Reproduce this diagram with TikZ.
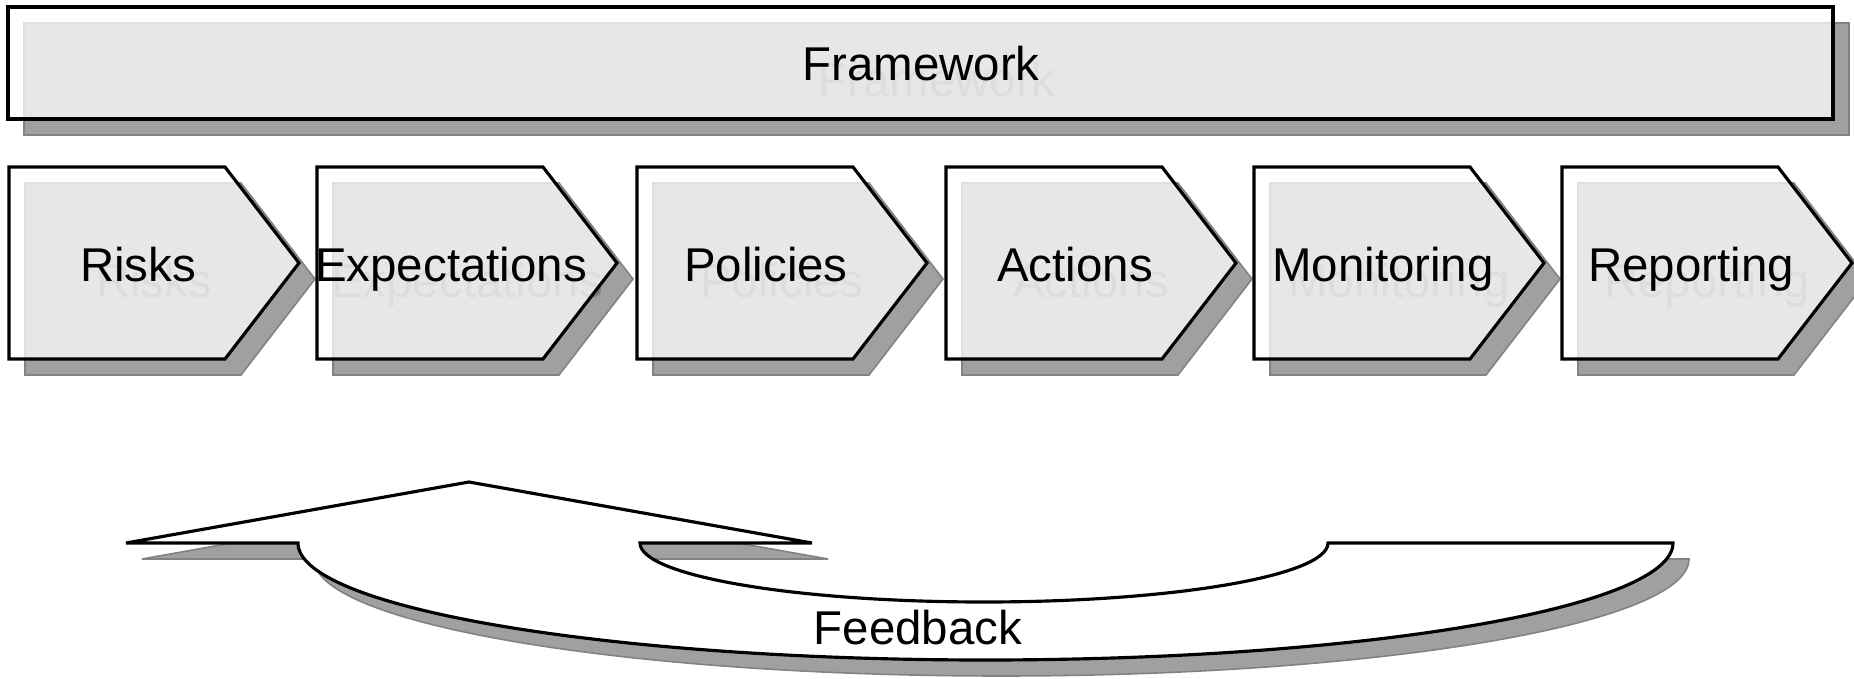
\documentclass[tikz,border=0pt]{standalone}
\usepackage{fontspec}
\setmainfont{Liberation Sans}
\usetikzlibrary{positioning}

\definecolor{shadowfill}{HTML}{A0A0A0}
\definecolor{shadowline}{HTML}{828282}
\definecolor{ghostgray}{HTML}{7A7A7A}

\begin{document}
\begin{tikzpicture}[x=0.02cm, y=-0.02cm,
  dropshade/.style={fill=shadowfill, draw=shadowline, line width=0.9pt, shift={(16,16)}},
  pane/.style={draw=black, line width=1.8pt, fill=white, fill opacity=0.75},
  stagetext/.style={font=\fontsize{27}{32}\selectfont, anchor=base, inner sep=0pt},
  ghost/.style={stagetext, text=ghostgray}]
\useasboundingbox (0,0) rectangle (1854,679);

% Framework
\draw[dropshade] (8,7) rectangle (1833,119);
\node[ghost] (framework-g) at (937,97) {Framework};
\draw[pane] (8,7) rectangle (1833,119);
\node[stagetext] (framework) at (921,81) {Framework};

% Stufen
\foreach \name/\txt/\l/\w in {risks/Risks/9/216, expectations/Expectations/317/226,
    policies/Policies/637/216, actions/Actions/946/216,
    monitoring/Monitoring/1254/216, reporting/Reporting/1562/216} {
  \draw[dropshade] (\l,167) -- ++(\w,0) -- ++(74,96) -- ++(-74,96) -- ++(-\w,0) -- cycle;
  \node[ghost] (\name-g) at (\l+\w/2+37,297) {\txt};
  \draw[pane] (\l,167) -- ++(\w,0) -- ++(74,96) -- ++(-74,96) -- ++(-\w,0) -- cycle;
  \node[stagetext] (\name) at (\l+\w/2+21,281) {\txt};
}

% Rueckkopplung
\draw[dropshade] (126,543) -- (469,482) -- (812,543) -- (640,543)
  arc[start angle=180, end angle=0, x radius=344, y radius=59] -- (1673,543)
  arc[start angle=0, end angle=180, x radius=687.5, y radius=117] -- cycle;
\draw[line width=1.8pt, fill=white] (126,543) -- (469,482) -- (812,543) -- (640,543)
  arc[start angle=180, end angle=0, x radius=344, y radius=59] -- (1673,543)
  arc[start angle=0, end angle=180, x radius=687.5, y radius=117] -- cycle;
\node[stagetext] (feedback) at (918,644) {Feedback};
\end{tikzpicture}
\end{document}
